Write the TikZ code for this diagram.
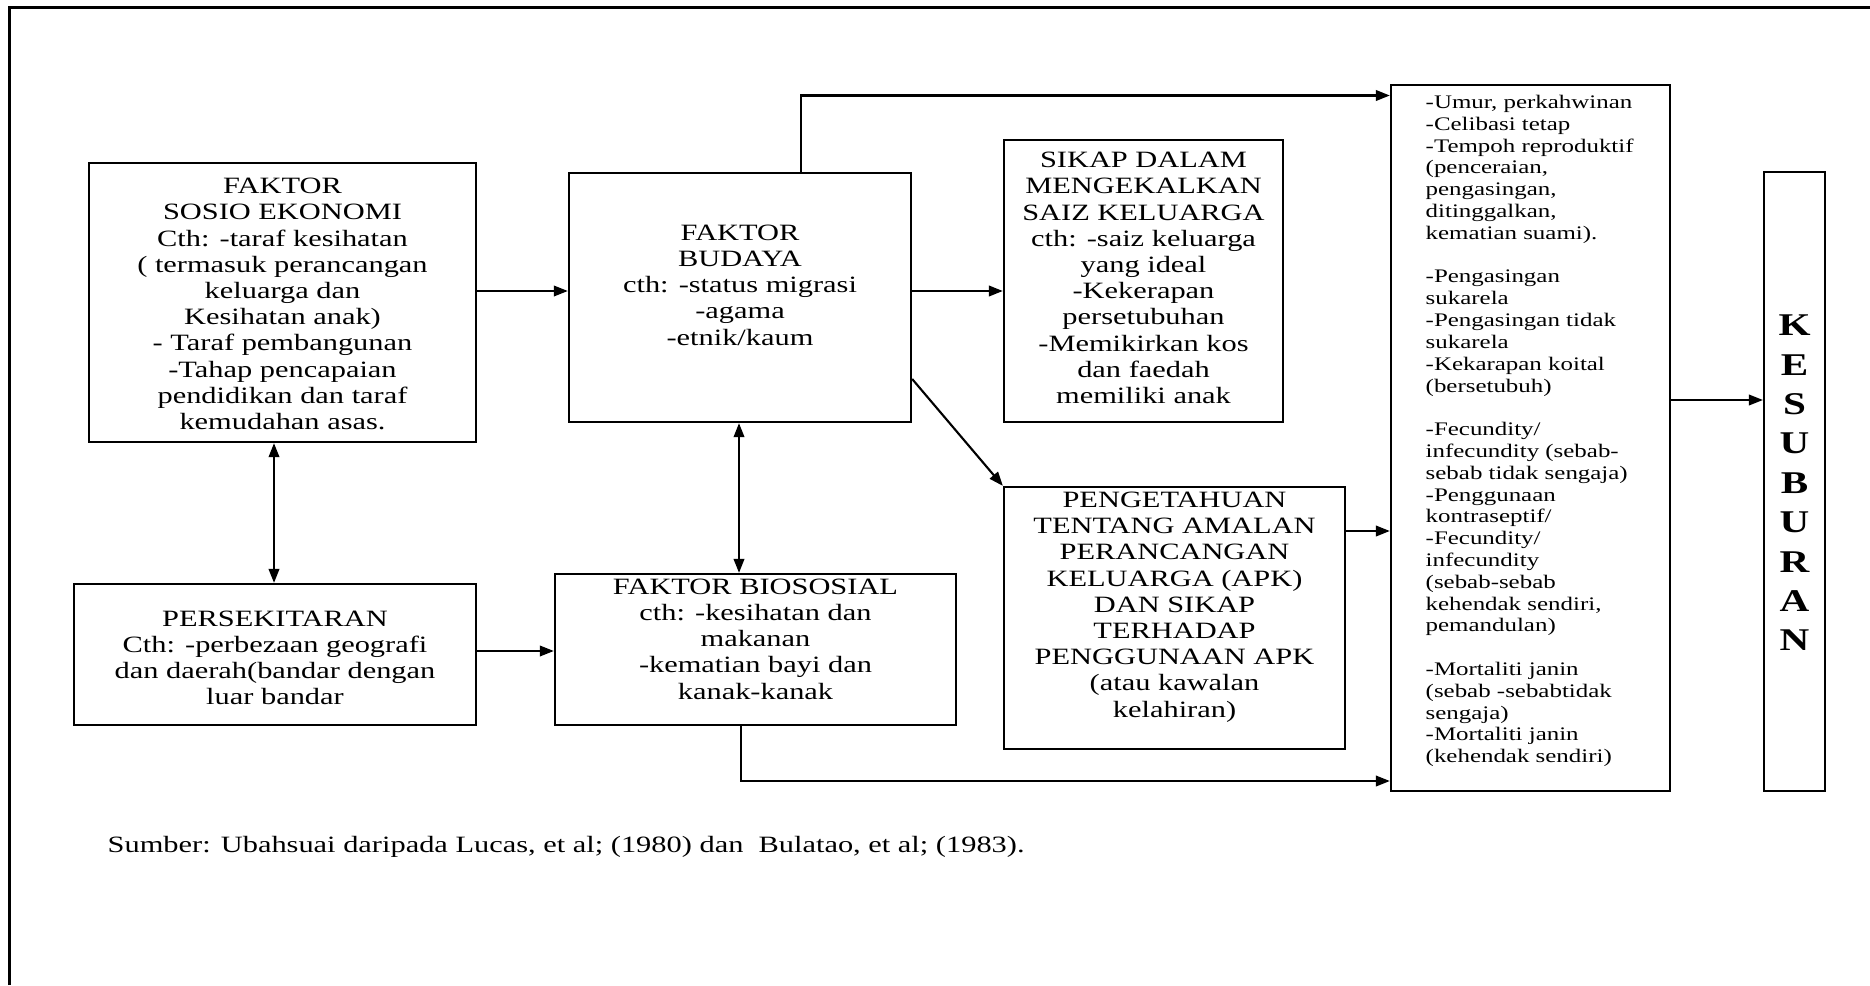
\documentclass[tikz,border=0pt]{standalone}
\usepackage{fontspec}
\setmainfont{Liberation Serif}[FakeStretch=1.3]
\usetikzlibrary{arrows.meta}

\begin{document}
\begin{tikzpicture}[x=0.01cm,y=-0.01cm]
\tikzset{kotak/.style={draw,line width=0.6pt,inner sep=0pt},
  teks/.style={align=center,inner sep=0pt,font=\fontsize{6.65}{7.45}\selectfont},
  senarai/.style={align=left,inner sep=0pt,font=\fontsize{5.45}{6.2}\selectfont},
  panah/.style={line width=0.6pt,-{Triangle[length=4pt,width=3pt]}},
  duapanah/.style={line width=0.6pt,{Triangle[length=4pt,width=3pt]}-{Triangle[length=4pt,width=3pt]}}}
\useasboundingbox (0,0) rectangle (1870,985);
% bingkai
\draw [line width=1pt] (9.5,985) -- (9.5,7.5) -- (1870,7.5);
% kotak
\node [kotak,minimum width=3.87cm,minimum height=2.79cm] (sosio) at (282.5,302.5) {};
\node [kotak,minimum width=3.42cm,minimum height=2.49cm] (budaya) at (740,297.5) {};
\node [kotak,minimum width=2.79cm,minimum height=2.82cm] (sikap) at (1143.5,281) {};
\node [kotak,minimum width=3.41cm,minimum height=2.62cm] (apk) at (1174.5,618) {};
\node [kotak,minimum width=4.02cm,minimum height=1.41cm] (persek) at (275,654.5) {};
\node [kotak,minimum width=4.01cm,minimum height=1.51cm] (bio) at (755.5,649.5) {};
\node [kotak,minimum width=2.79cm,minimum height=7.06cm] (faktor) at (1530.5,438) {};
\node [kotak,minimum width=0.61cm,minimum height=6.19cm] (subur) at (1794.5,481.5) {};
% teks
\node [teks] (t-sosio) at (282.5,304) {FAKTOR\\SOSIO EKONOMI\\Cth: -taraf kesihatan\\( termasuk perancangan\\keluarga dan\\Kesihatan anak)\\- Taraf pembangunan\\-Tahap pencapaian\\pendidikan dan taraf\\kemudahan asas.};
\node [teks] (t-budaya) at (740,285) {FAKTOR\\BUDAYA\\cth: -status migrasi\\-agama\\-etnik/kaum};
\node [teks] (t-sikap) at (1143.5,278) {SIKAP DALAM\\MENGEKALKAN\\SAIZ KELUARGA\\cth: -saiz keluarga\\yang ideal\\-Kekerapan\\persetubuhan\\-Memikirkan kos\\dan faedah\\memiliki anak};
\node [teks] (t-apk) at (1174.5,607) {PENGETAHUAN\\TENTANG AMALAN\\PERANCANGAN\\KELUARGA (APK)\\DAN SIKAP\\TERHADAP\\PENGGUNAAN APK\\(atau kawalan\\kelahiran)};
\node [teks] (t-persek) at (275,658) {PERSEKITARAN\\Cth: -perbezaan geografi\\dan daerah(bandar dengan\\luar bandar};
\node [teks] (t-bio) at (755.5,639) {FAKTOR BIOSOSIAL\\cth: -kesihatan dan\\makanan\\-kematian bayi dan\\kanak-kanak};
\node [senarai,anchor=west] (t-faktor) at (1425,431) {-Umur, perkahwinan\\-Celibasi tetap\\-Tempoh reproduktif\\(penceraian,\\pengasingan,\\ditinggalkan,\\kematian suami).\\[6.2pt]-Pengasingan\\sukarela\\-Pengasingan tidak\\sukarela\\-Kekarapan koital\\(bersetubuh)\\[6.2pt]-Fecundity/\\infecundity (sebab-\\sebab tidak sengaja)\\-Penggunaan\\kontraseptif/\\-Fecundity/\\infecundity\\(sebab-sebab\\kehendak sendiri,\\pemandulan)\\[6.2pt]-Mortaliti janin\\(sebab -sebabtidak\\sengaja)\\-Mortaliti janin\\(kehendak sendiri)};
\node [teks,font=\fontsize{9}{11.2}\selectfont\bfseries] (t-subur) at (1794.5,483) {K\\E\\S\\U\\B\\U\\R\\A\\N};
\node [teks,anchor=west] (sumber) at (107,847) {Sumber: Ubahsuai daripada Lucas, et al; (1980) dan \ Bulatao, et al; (1983).};
% anak panah
\draw [panah] (sosio.east |- 0,291) -- (budaya.west |- 0,291);
\draw [panah] (budaya.east |- 0,291) -- (sikap.west |- 0,291);
\draw [panah] (budaya.north -| 801,0) |- (faktor.west |- 0,95.5);
\draw [panah] (budaya.east |- 0,379) -- (apk.north west);
\draw [panah] (apk.east |- 0,531) -- (faktor.west |- 0,531);
\draw [panah] (persek.east |- 0,651) -- (bio.west |- 0,651);
\draw [panah] (bio.south -| 741,0) |- (faktor.west |- 0,781);
\draw [panah] (faktor.east |- 0,400) -- (subur.west |- 0,400);
\draw [duapanah] (sosio.south -| 274,0) -- (persek.north -| 274,0);
\draw [duapanah] (budaya.south -| 739,0) -- (bio.north -| 739,0);
\end{tikzpicture}
\end{document}
